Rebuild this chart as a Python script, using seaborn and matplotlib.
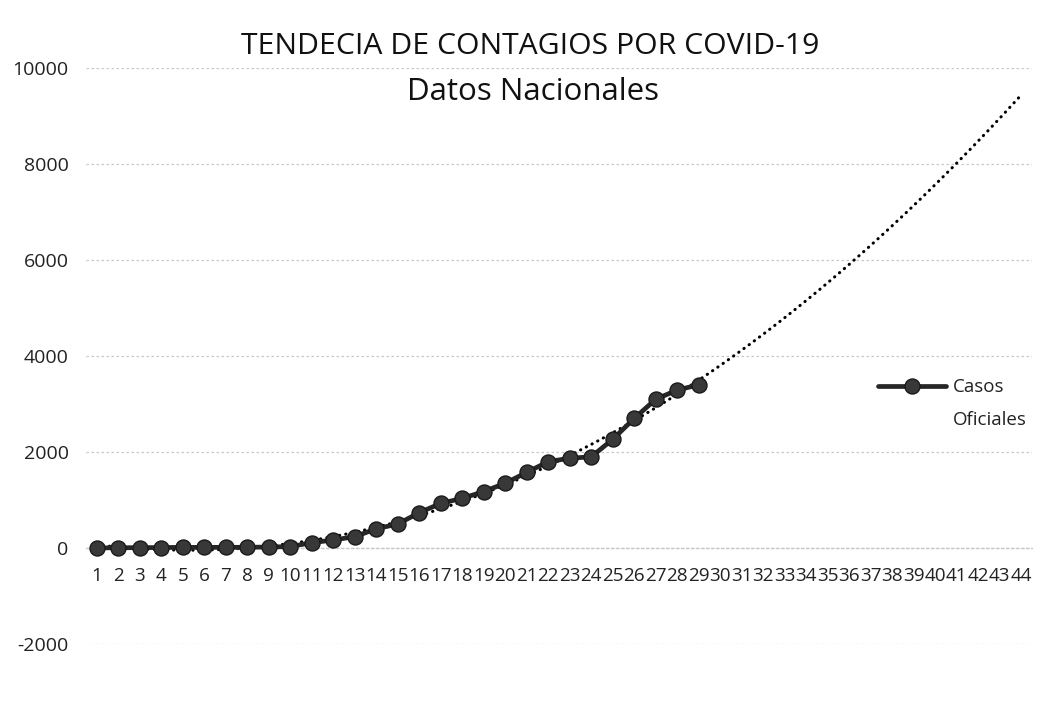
import numpy as np
import pandas as pd
import matplotlib
matplotlib.use("Agg")
import matplotlib.pyplot as plt
import seaborn as sns
from matplotlib.lines import Line2D

# ---- data ----
categories = list(range(1, 45))
dias = list(range(1, 30))
casos = [1, 6, 7, 10, 13, 13, 14, 15, 20, 30, 110, 167, 236, 400, 500,
         735, 930, 1035, 1175, 1350, 1575, 1800, 1870, 1900, 2265,
         2700, 3100, 3290, 3400]
yticks = [-2000, 0, 2000, 4000, 6000, 8000, 10000]
title = "TENDECIA DE CONTAGIOS POR COVID-19"
subtitle = "Datos Nacionales"
serie = "Casos Oficiales"

df = pd.DataFrame({"dia": dias, "casos": casos})

# polynomial trend line (fit of the data, forecast to the last category)
coef = np.polyfit(df["dia"], df["casos"], 3)
xt = np.linspace(1, categories[-1], 400)
trend = pd.DataFrame({"dia": xt, "casos": np.polyval(coef, xt)})

sns.set_theme(style="white")
plt.rcParams["font.family"] = ["Open Sans", "DejaVu Sans"]

fig = plt.figure(figsize=(10.41, 7.04), dpi=100)
ax = fig.add_axes([86/1041, 1-644/704, (1032-86)/1041, (644-68)/704])

for s in ["top", "right", "left"]:
    ax.spines[s].set_visible(False)
ax.spines["bottom"].set_position(("data", 0))
ax.spines["bottom"].set_color("#c8c8c8")
ax.spines["bottom"].set_linewidth(0.9)
ax.spines["bottom"].set_linestyle((0, (2, 2)))

# trend line
sns.lineplot(data=trend, x="dia", y="casos", ax=ax, color="black",
             linewidth=2.2, linestyle=(0, (0.1, 2.0)),
             dash_capstyle="round", zorder=2, legend=False)
# data series
sns.lineplot(data=df, x="dia", y="casos", ax=ax, color="#262626",
             linewidth=3.4, marker="o", markersize=10.8,
             markerfacecolor="#383838", markeredgecolor="#1a1a1a",
             markeredgewidth=1.0, zorder=3, legend=False)

ax.set_xlim(0.5, categories[-1] + 0.5)
ax.set_ylim(yticks[0], yticks[-1])
ax.set_yticks(yticks)
ax.set_yticklabels([str(v) for v in yticks])
ax.set_xticks(categories)
ax.set_xticklabels([str(c) for c in categories])
ax.tick_params(axis="both", length=0, labelcolor="#222222")
ax.tick_params(axis="y", pad=12.5, labelsize=14)
ax.tick_params(axis="x", pad=13.5, labelsize=13.6)

ax.grid(axis="y", color="#c8c8c8", linewidth=0.9, linestyle=(0, (2, 2)))
ax.grid(axis="x", visible=False)
ax.set_xlabel("")
ax.set_ylabel("")

fig.text(530/1041, 1-47/704, title, ha="center", va="center",
         fontsize=21.7, color="#111111")
fig.text(533/1041, 1-92/704, subtitle, ha="center", va="center",
         fontsize=22.5, color="#111111")

h1 = Line2D([], [], color="#262626", linewidth=3.4, marker="o",
            markersize=10.8, markerfacecolor="#383838",
            markeredgecolor="#1a1a1a")
h2 = Line2D([], [], alpha=0)
lab = serie.split(" ")
fig.legend([h1, h2], lab, loc="upper left",
           bbox_to_anchor=(869/1041, 1-369/704), frameon=False,
           borderpad=0, handlelength=3.6, handletextpad=0.35,
           labelspacing=0.76, prop={"size": 13.5}, labelcolor="#222222")

fig.savefig("out.png", dpi=100)
